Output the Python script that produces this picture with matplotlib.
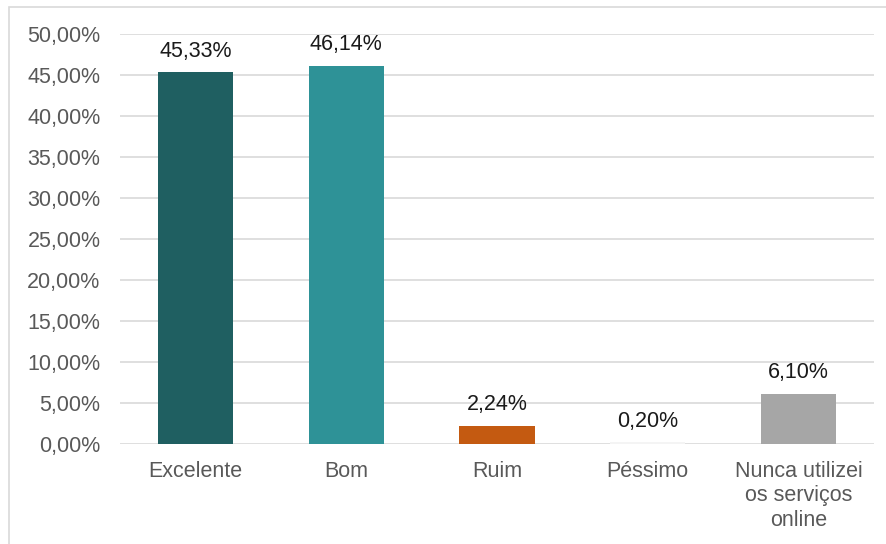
import matplotlib.pyplot as plt
from matplotlib.patches import Rectangle
from matplotlib.ticker import FuncFormatter

categorias = ['Excelente', 'Bom', 'Ruim', 'Péssimo', 'Nunca utilizei\nos serviços\nonline']
valores = [45.33, 46.14, 2.24, 0.20, 6.10]
cores = ['#1F5F61', '#2E9297', '#C45A11', '#F4F4F4', '#A6A6A6']
yticks = [0, 5, 10, 15, 20, 25, 30, 35, 40, 45, 50]

plt.rcParams['font.family'] = ['Liberation Sans', 'DejaVu Sans']

fig = plt.figure(figsize=(8.87, 5.44), dpi=100)
ax = fig.add_axes([120 / 887, 1 - 444 / 544, 754 / 887, 410 / 544])

x = range(len(categorias))
ax.bar(x, valores, width=0.5, color=cores, zorder=3)
for xi, v in zip(x, valores):
    ax.text(xi, v + 1.3, f'{v:.2f}%'.replace('.', ','), ha='center', va='bottom',
            fontsize=15.5, color='#1A1A1A')

ax.set_xlim(-0.5, len(categorias) - 0.5)
ax.set_ylim(0, 50)
ax.set_yticks(yticks)
ax.yaxis.set_major_formatter(FuncFormatter(lambda v, p: f'{v:.2f}%'.replace('.', ',')))
ax.set_xticks(list(x))
ax.set_xticklabels(categorias, va='top', linespacing=1.22)
ax.tick_params(axis='both', length=0, labelsize=15.5, labelcolor='#595959')
ax.tick_params(axis='y', pad=14)
ax.tick_params(axis='x', pad=12)
ax.grid(axis='y', color='#D9D9D9', linewidth=1.2, zorder=0)
for s in ax.spines.values():
    s.set_visible(False)

fig.patches.append(Rectangle((9 / 887, -0.1), 1.0, 1 - 7 / 544 + 0.1, transform=fig.transFigure,
                             fill=False, edgecolor='#D9D9D9', linewidth=1.2))

fig.savefig('out.png', dpi=100)
